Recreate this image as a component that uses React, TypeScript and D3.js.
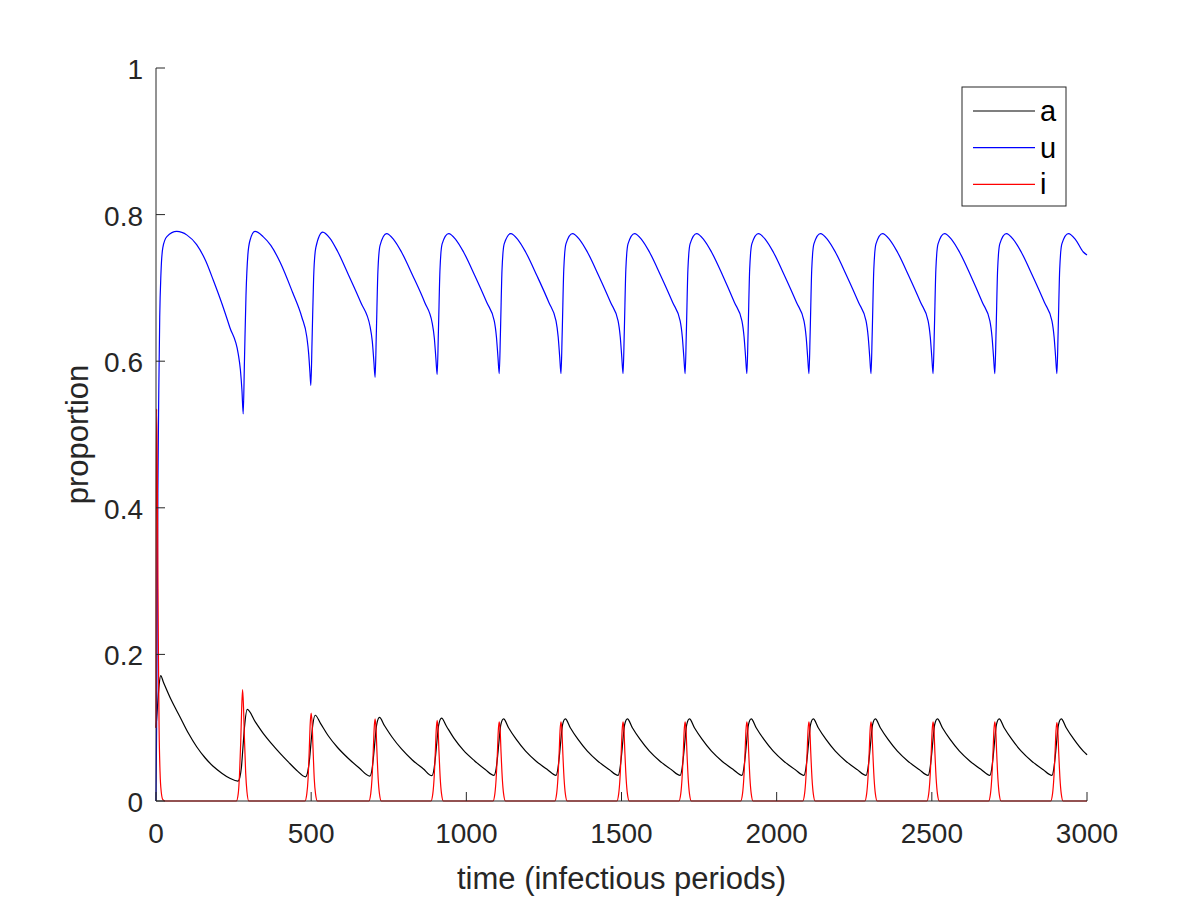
import * as d3 from 'd3'

// time (infectious periods), proportion
const uPoints: [number, number][] = [
  [0, 0], [2, 0.1], [4, 0.26], [6, 0.42], [9, 0.56], [12, 0.66], [16, 0.72], [22, 0.755], [35, 0.77], [67, 0.777],
  [100, 0.772], [131, 0.759], [160, 0.737], [185, 0.71], [212, 0.679], [238, 0.646], [265, 0.61],
  [272, 0.588], [277, 0.56], [281, 0.528], [285, 0.6], [290, 0.69], [296, 0.745], [303, 0.765], [319, 0.777],
  [345, 0.77], [370, 0.758], [400, 0.735], [440, 0.694], [470, 0.66], [486, 0.633],
  [492, 0.61], [496, 0.585], [499, 0.567], [503, 0.63], [508, 0.715], [515, 0.755], [537, 0.776],
  [560, 0.768], [585, 0.75], [620, 0.718], [660, 0.68], [690, 0.647],
  [697, 0.627], [702, 0.6], [706, 0.578], [710, 0.638], [715, 0.722], [722, 0.758], [743, 0.774],
  [766, 0.766], [791, 0.749], [826, 0.718], [866, 0.68], [890, 0.652],
  [897, 0.631], [902, 0.603], [906, 0.582], [910, 0.64], [915, 0.724], [922, 0.76], [943, 0.774],
  [966, 0.766], [991, 0.749], [1026, 0.718], [1066, 0.68], [1090, 0.655],
  [1097, 0.633], [1102, 0.605], [1106, 0.583], [1110, 0.64], [1115, 0.725], [1122, 0.76], [1143, 0.774],
  [1166, 0.766], [1191, 0.749], [1226, 0.718], [1266, 0.68], [1289, 0.655],
  [1296, 0.633], [1301, 0.605], [1305, 0.583], [1309, 0.64], [1314, 0.725], [1321, 0.76], [1342, 0.774],
  [1365, 0.766], [1390, 0.749], [1425, 0.718], [1465, 0.68], [1489, 0.655],
  [1496, 0.633], [1501, 0.605], [1505, 0.583], [1509, 0.64], [1514, 0.725], [1521, 0.76], [1542, 0.774],
  [1565, 0.766], [1590, 0.749], [1625, 0.718], [1665, 0.68], [1689, 0.655],
  [1696, 0.633], [1701, 0.605], [1705, 0.583], [1709, 0.64], [1714, 0.725], [1721, 0.76], [1742, 0.774],
  [1765, 0.766], [1790, 0.749], [1825, 0.718], [1864, 0.68], [1888, 0.655],
  [1895, 0.633], [1900, 0.605], [1904, 0.583], [1908, 0.64], [1913, 0.725], [1920, 0.76], [1941, 0.774],
  [1964, 0.766], [1989, 0.749], [2024, 0.718], [2064, 0.68], [2088, 0.655],
  [2095, 0.633], [2100, 0.605], [2104, 0.583], [2108, 0.64], [2113, 0.725], [2120, 0.76], [2141, 0.774],
  [2164, 0.766], [2189, 0.749], [2224, 0.718], [2264, 0.68], [2288, 0.655],
  [2295, 0.633], [2300, 0.605], [2304, 0.583], [2308, 0.64], [2313, 0.725], [2320, 0.76], [2341, 0.774],
  [2364, 0.766], [2389, 0.749], [2424, 0.718], [2464, 0.68], [2488, 0.655],
  [2495, 0.633], [2500, 0.605], [2504, 0.583], [2508, 0.64], [2513, 0.725], [2520, 0.76], [2541, 0.774],
  [2564, 0.766], [2589, 0.749], [2624, 0.718], [2663, 0.68], [2687, 0.655],
  [2694, 0.633], [2699, 0.605], [2703, 0.583], [2707, 0.64], [2712, 0.725], [2719, 0.76], [2740, 0.774],
  [2763, 0.766], [2788, 0.749], [2823, 0.718], [2863, 0.68], [2887, 0.655],
  [2894, 0.633], [2899, 0.605], [2903, 0.583], [2907, 0.64], [2912, 0.725], [2919, 0.76], [2940, 0.774],
  [2963, 0.766], [2988, 0.749], [3000, 0.745]
]

const aPoints: [number, number][] = [
  [0, 0.1], [5, 0.13], [10, 0.158], [15, 0.171], [24, 0.162], [50, 0.137], [77, 0.115], [105, 0.092],
  [131, 0.074], [158, 0.059], [185, 0.047], [212, 0.038], [238, 0.031], [264, 0.027],
  [270, 0.032], [275, 0.045], [280, 0.072], [285, 0.1], [294, 0.125], [320, 0.108], [346, 0.092],
  [373, 0.078], [400, 0.065], [427, 0.053], [453, 0.042], [482, 0.033],
  [489, 0.04], [495, 0.058], [500, 0.082], [505, 0.103], [513, 0.117], [530, 0.106], [555, 0.089],
  [585, 0.073], [620, 0.058], [655, 0.045], [689, 0.034],
  [696, 0.043], [701, 0.061], [706, 0.084], [711, 0.104], [720, 0.114], [736, 0.103], [761, 0.087],
  [791, 0.071], [826, 0.056], [861, 0.044], [889, 0.0345],
  [896, 0.044], [901, 0.062], [906, 0.085], [911, 0.104], [920, 0.113], [936, 0.102], [961, 0.085],
  [991, 0.069], [1026, 0.055], [1061, 0.043], [1089, 0.035],
  [1096, 0.044], [1101, 0.062], [1106, 0.085], [1111, 0.104], [1120, 0.112], [1136, 0.1], [1161, 0.084],
  [1191, 0.068], [1226, 0.054], [1261, 0.043], [1289, 0.035],
  [1295, 0.044], [1300, 0.062], [1305, 0.085], [1310, 0.104], [1319, 0.112], [1335, 0.1], [1360, 0.084],
  [1390, 0.068], [1425, 0.054], [1460, 0.043], [1489, 0.035],
  [1495, 0.044], [1500, 0.062], [1505, 0.085], [1510, 0.104], [1519, 0.112], [1535, 0.1], [1560, 0.084],
  [1590, 0.068], [1625, 0.054], [1660, 0.043], [1689, 0.035],
  [1695, 0.044], [1700, 0.062], [1705, 0.085], [1710, 0.104], [1719, 0.112], [1735, 0.1], [1760, 0.084],
  [1790, 0.068], [1825, 0.054], [1860, 0.043], [1888, 0.035],
  [1894, 0.044], [1899, 0.062], [1904, 0.085], [1909, 0.104], [1918, 0.112], [1934, 0.1], [1959, 0.084],
  [1989, 0.068], [2024, 0.054], [2059, 0.043], [2088, 0.035],
  [2094, 0.044], [2099, 0.062], [2104, 0.085], [2109, 0.104], [2118, 0.112], [2134, 0.1], [2159, 0.084],
  [2189, 0.068], [2224, 0.054], [2259, 0.043], [2288, 0.035],
  [2294, 0.044], [2299, 0.062], [2304, 0.085], [2309, 0.104], [2318, 0.112], [2334, 0.1], [2359, 0.084],
  [2389, 0.068], [2424, 0.054], [2459, 0.043], [2488, 0.035],
  [2494, 0.044], [2499, 0.062], [2504, 0.085], [2509, 0.104], [2518, 0.112], [2534, 0.1], [2559, 0.084],
  [2589, 0.068], [2624, 0.054], [2659, 0.043], [2687, 0.035],
  [2693, 0.044], [2698, 0.062], [2703, 0.085], [2708, 0.104], [2717, 0.112], [2733, 0.1], [2758, 0.084],
  [2788, 0.068], [2823, 0.054], [2858, 0.043], [2887, 0.035],
  [2893, 0.044], [2898, 0.062], [2903, 0.085], [2908, 0.104], [2917, 0.112], [2933, 0.1], [2958, 0.084],
  [2988, 0.068], [3000, 0.063]
]

const iPoints: [number, number][] = [
  [0, 0.1], [1, 0.42], [2, 0.535], [4, 0.46], [6, 0.32], [8, 0.19], [10, 0.1], [13, 0.04], [17, 0.012], [22, 0.002], [30, 0],
  [259, 0], [265, 0.01], [269, 0.035], [273, 0.08], [276, 0.125], [279, 0.152], [282, 0.128], [285, 0.085], [289, 0.038], [293, 0.013], [299, 0],
  [480, 0], [486, 0.01], [490, 0.03], [494, 0.072], [497, 0.106], [500, 0.12], [503, 0.106], [506, 0.072], [510, 0.03], [514, 0.01], [520, 0],
  [686, 0], [692, 0.01], [696, 0.03], [700, 0.067], [703, 0.099], [706, 0.112], [709, 0.099], [712, 0.067], [716, 0.03], [720, 0.01], [726, 0],
  [886, 0], [892, 0.01], [896, 0.03], [900, 0.066], [903, 0.097], [906, 0.11], [909, 0.097], [912, 0.066], [916, 0.03], [920, 0.01], [926, 0],
  [1086, 0], [1092, 0.01], [1096, 0.03], [1100, 0.065], [1103, 0.096], [1106, 0.108], [1109, 0.096], [1112, 0.065], [1116, 0.03], [1120, 0.01], [1126, 0],
  [1285, 0], [1291, 0.01], [1295, 0.03], [1299, 0.065], [1302, 0.096], [1305, 0.108], [1308, 0.096], [1311, 0.065], [1315, 0.03], [1319, 0.01], [1325, 0],
  [1485, 0], [1491, 0.01], [1495, 0.03], [1499, 0.065], [1502, 0.096], [1505, 0.108], [1508, 0.096], [1511, 0.065], [1515, 0.03], [1519, 0.01], [1525, 0],
  [1685, 0], [1691, 0.01], [1695, 0.03], [1699, 0.065], [1702, 0.096], [1705, 0.108], [1708, 0.096], [1711, 0.065], [1715, 0.03], [1719, 0.01], [1725, 0],
  [1884, 0], [1890, 0.01], [1894, 0.03], [1898, 0.065], [1901, 0.096], [1904, 0.108], [1907, 0.096], [1910, 0.065], [1914, 0.03], [1918, 0.01], [1924, 0],
  [2084, 0], [2090, 0.01], [2094, 0.03], [2098, 0.065], [2101, 0.096], [2104, 0.108], [2107, 0.096], [2110, 0.065], [2114, 0.03], [2118, 0.01], [2124, 0],
  [2284, 0], [2290, 0.01], [2294, 0.03], [2298, 0.065], [2301, 0.096], [2304, 0.108], [2307, 0.096], [2310, 0.065], [2314, 0.03], [2318, 0.01], [2324, 0],
  [2484, 0], [2490, 0.01], [2494, 0.03], [2498, 0.065], [2501, 0.096], [2504, 0.108], [2507, 0.096], [2510, 0.065], [2514, 0.03], [2518, 0.01], [2524, 0],
  [2683, 0], [2689, 0.01], [2693, 0.03], [2697, 0.065], [2700, 0.096], [2703, 0.108], [2706, 0.096], [2709, 0.065], [2713, 0.03], [2717, 0.01], [2723, 0],
  [2883, 0], [2889, 0.01], [2893, 0.03], [2897, 0.065], [2900, 0.095], [2903, 0.107], [2906, 0.095], [2909, 0.065], [2913, 0.03], [2917, 0.01], [2923, 0],
  [3000, 0]
]

const xTicks = [0, 500, 1000, 1500, 2000, 2500, 3000]
const yTicks = [0, 0.2, 0.4, 0.6, 0.8, 1]
const seriesNames = ['a', 'u', 'i']
const seriesColors = ['#000000', '#0000ff', '#ff0000']

const W = 1200
const H = 900
const margin = { left: 156, right: 113, top: 68, bottom: 99 }
const axisColor = '#262626'
const font = '"Liberation Sans", Arial, Helvetica, sans-serif'

const App = () => {
  const x = d3.scaleLinear().domain([0, 3000]).range([margin.left, W - margin.right])
  const y = d3.scaleLinear().domain([0, 1]).range([H - margin.bottom, margin.top])

  const line = d3
    .line<[number, number]>()
    .x((d) => x(d[0]))
    .y((d) => y(d[1]))
    .curve(d3.curveMonotoneX)

  const series = [aPoints, uPoints, iPoints]
  const x0 = x(0)
  const y0 = y(0)

  // legend box
  const lg = { x: 962, y: 87, w: 104, h: 119 }

  return (
    <svg
      width={W}
      height={H}
      style={{ position: 'absolute', left: 0, top: 0, background: '#fff' }}
      fontFamily={font}
    >
      <rect width={W} height={H} fill='#fff' />

      {series.map((pts, k) => (
        <path key={k} d={line(pts) || ''} fill='none' stroke={seriesColors[k]} strokeWidth={1.2} />
      ))}

      {/* axes */}
      <line x1={x0} x2={x(3000)} y1={y0} y2={y0} stroke={axisColor} strokeWidth={1} />
      <line x1={x0} x2={x0} y1={y0} y2={y(1)} stroke={axisColor} strokeWidth={1} />

      {xTicks.map((t) => (
        <g key={'x' + t}>
          <line x1={x(t)} x2={x(t)} y1={y0} y2={y0 - 9} stroke={axisColor} />
          <text x={x(t)} y={843} textAnchor='middle' fontSize={28} fill={axisColor}>
            {t}
          </text>
        </g>
      ))}
      {yTicks.map((t) => (
        <g key={'y' + t}>
          <line x1={x0} x2={x0 + 9} y1={y(t)} y2={y(t)} stroke={axisColor} />
          <text x={143} y={y(t) + 11} textAnchor='end' fontSize={28} fill={axisColor}>
            {t}
          </text>
        </g>
      ))}

      <text x={(x0 + x(3000)) / 2} y={889} textAnchor='middle' fontSize={31} fill={axisColor}>
        time (infectious periods)
      </text>
      <text
        transform={`translate(88, ${(y(0) + y(1)) / 2}) rotate(-90)`}
        textAnchor='middle'
        fontSize={31}
        fill={axisColor}
      >
        proportion
      </text>

      {/* legend */}
      <rect x={lg.x} y={lg.y} width={lg.w} height={lg.h} fill='#fff' stroke={axisColor} strokeWidth={1} />
      {seriesNames.map((name, k) => (
        <g key={name}>
          <line x1={973} x2={1035} y1={111 + k * 36.7} y2={111 + k * 36.7} stroke={seriesColors[k]} strokeWidth={1.2} />
          <text x={1040} y={121 + k * 36.7} fontSize={29} fill='#000'>
            {name}
          </text>
        </g>
      ))}
    </svg>
  )
}

export default App
